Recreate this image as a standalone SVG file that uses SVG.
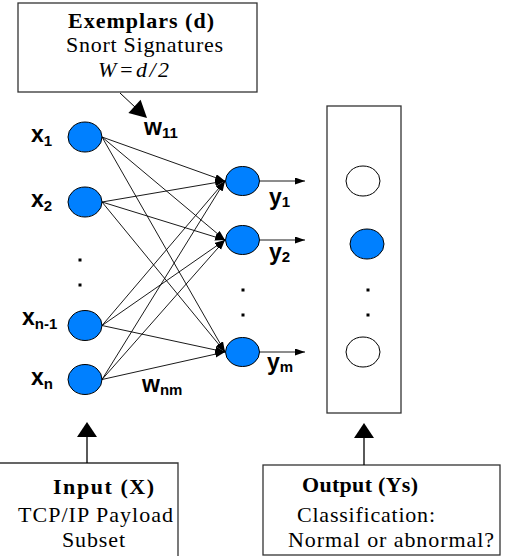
<svg xmlns="http://www.w3.org/2000/svg" width="507" height="556" viewBox="0 0 507 556">
<style>
.box{fill:#fff;stroke:#333;stroke-width:1.3}
.node{fill:#0080ff;stroke:#000;stroke-width:1}
.wnode{fill:#fff;stroke:#000;stroke-width:1}
.edge{stroke:#000;stroke-width:0.9;fill:none}
.serif{font-family:"Liberation Serif","Times New Roman",serif;font-size:22px;fill:#000}
.b{font-weight:bold}
.lab{font-family:"Liberation Sans",Arial,sans-serif;font-weight:bold;font-size:23px;fill:#000}
.sub{font-size:15px}
.dot{fill:#000}
</style>
<defs>
<marker id="ah" markerUnits="userSpaceOnUse" markerWidth="11" markerHeight="8" refX="10" refY="3.5" orient="auto">
<path d="M0,0 L10,3.5 L0,7 z" fill="#000"/>
</marker>
</defs>
<g id="exemplars">
<rect class="box" x="18" y="3" width="239" height="89"/>
<text class="serif b" x="68" y="28" textLength="146" lengthAdjust="spacing">Exemplars (d)</text>
<text class="serif" x="66" y="52" textLength="157" lengthAdjust="spacing">Snort Signatures</text>
<text class="serif" x="98" y="77" font-style="italic" textLength="71" lengthAdjust="spacing">W=d/2</text>
</g>
<g id="input-box">
<path class="box" d="M0,463 H178 V556" fill="#fff"/>
<text class="serif b" x="53" y="494" textLength="101" lengthAdjust="spacing">Input (X)</text>
<text class="serif" x="18" y="522" textLength="155" lengthAdjust="spacing">TCP/IP Payload</text>
<text class="serif" x="62" y="547" textLength="63" lengthAdjust="spacing">Subset</text>
</g>
<g id="output-box">
<rect class="box" x="263" y="465" width="237" height="90"/>
<text class="serif b" x="302" y="492" textLength="116" lengthAdjust="spacing">Output (Ys)</text>
<text class="serif" x="297" y="522" textLength="138" lengthAdjust="spacing">Classification:</text>
<text class="serif" x="288" y="547" textLength="206" lengthAdjust="spacing">Normal or abnormal?</text>
</g>
<g id="output-panel">
<rect class="box" x="327" y="106" width="74" height="307"/>
<ellipse class="wnode" cx="363" cy="181" rx="17" ry="15"/>
<ellipse class="node" cx="367" cy="244" rx="17" ry="15"/>
<rect class="dot" x="366.5" y="288.5" width="3" height="3"/>
<rect class="dot" x="366.5" y="313.5" width="3" height="3"/>
<ellipse class="wnode" cx="363" cy="352" rx="17" ry="15"/>
</g>
<g id="input-nodes">
<g id="x1"><ellipse class="node" cx="85" cy="137" rx="17" ry="15"/><text class="lab" x="31" y="142">x<tspan class="sub" dy="4">1</tspan></text></g>
<g id="x2"><ellipse class="node" cx="85" cy="202" rx="17" ry="15"/><text class="lab" x="31" y="207">x<tspan class="sub" dy="4">2</tspan></text></g>
<g id="xn-1"><ellipse class="node" cx="85" cy="325.5" rx="17" ry="15"/><text class="lab" x="22" y="325">x<tspan class="sub" dy="4">n-1</tspan></text></g>
<g id="xn"><ellipse class="node" cx="85" cy="379.5" rx="17" ry="15"/><text class="lab" x="31" y="385">x<tspan class="sub" dy="4">n</tspan></text></g>
<rect class="dot" x="78.5" y="258.5" width="3" height="3"/>
<rect class="dot" x="78.5" y="283.5" width="3" height="3"/>
</g>
<g id="hidden-nodes">
<g id="h1"><ellipse class="node" cx="242.5" cy="181" rx="17" ry="14.5"/><text class="lab" x="269" y="205">y<tspan class="sub" dy="2">1</tspan></text></g>
<g id="h2"><ellipse class="node" cx="242.5" cy="240" rx="17" ry="14.5"/><text class="lab" x="269" y="260">y<tspan class="sub" dy="2">2</tspan></text></g>
<g id="hm"><ellipse class="node" cx="242.5" cy="352" rx="17" ry="14.5"/><text class="lab" x="267" y="370">y<tspan class="sub" dy="2">m</tspan></text></g>
<rect class="dot" x="241.5" y="288.5" width="3" height="3"/>
<rect class="dot" x="241.5" y="313.5" width="3" height="3"/>
</g>
<g id="weights">
<text class="lab" x="144" y="135" font-size="21">w<tspan class="sub" font-size="14" dy="3">11</tspan></text>
<text class="lab" x="142" y="392" font-size="21">w<tspan class="sub" font-size="14" dy="3">nm</tspan></text>
</g>
<g id="connectors">
<path class="edge" marker-end="url(#ah)" d="M102,137 L225,181"/>
<path class="edge" marker-end="url(#ah)" d="M102,137 L225,240"/>
<path class="edge" marker-end="url(#ah)" d="M102,137 L225,352"/>
<path class="edge" marker-end="url(#ah)" d="M102,202 L225,181"/>
<path class="edge" marker-end="url(#ah)" d="M102,202 L225,240"/>
<path class="edge" marker-end="url(#ah)" d="M102,202 L225,352"/>
<path class="edge" marker-end="url(#ah)" d="M102,325.5 L225,181"/>
<path class="edge" marker-end="url(#ah)" d="M102,325.5 L225,240"/>
<path class="edge" marker-end="url(#ah)" d="M102,325.5 L225,352"/>
<path class="edge" marker-end="url(#ah)" d="M102,379.5 L225,181"/>
<path class="edge" marker-end="url(#ah)" d="M102,379.5 L225,240"/>
<path class="edge" marker-end="url(#ah)" d="M102,379.5 L225,352"/>
<path class="edge" marker-end="url(#ah)" d="M259.5,181 L305,181"/>
<path class="edge" marker-end="url(#ah)" d="M259.5,240 L305,240"/>
<path class="edge" marker-end="url(#ah)" d="M259.5,352 L305,352"/>
<line x1="120" y1="93" x2="136" y2="108" stroke="#000" stroke-width="1"/>
<polygon points="147,118 128.4,113 140.6,99.8" fill="#000"/>
<line x1="87" y1="463" x2="87" y2="436" stroke="#000" stroke-width="1.3"/>
<polygon points="87,422 77,437 97,437" fill="#000"/>
<line x1="364" y1="465" x2="364" y2="437" stroke="#000" stroke-width="1.3"/>
<polygon points="364,423 354,438 374,438" fill="#000"/>
</g>
</svg>
